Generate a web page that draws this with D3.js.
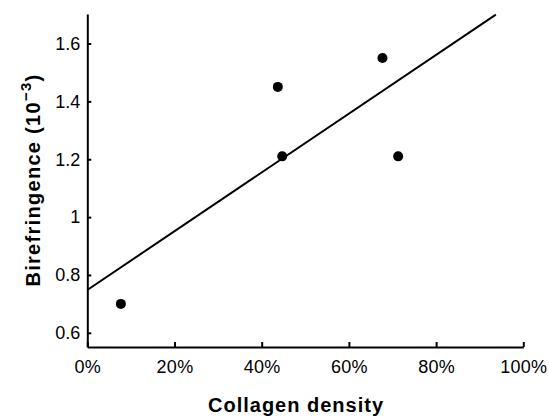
<!DOCTYPE html>
<html>
<head>
<meta charset="utf-8">
<script src="https://cdn.jsdelivr.net/npm/d3@7"></script>
<style>
  body { margin: 0; background: #fff; }
  svg text { font-family: "Liberation Sans", Arial, Helvetica, sans-serif; fill: #000; }
  .axis path, .axis line { stroke: #000; stroke-width: 2px; }
</style>
</head>
<body>
<div id="chart"></div>
<script>
// collagen density (fraction) vs birefringence (x10^-3)
var density = [0.077, 0.437, 0.447, 0.677, 0.713];
var birefringence = [0.70, 1.45, 1.21, 1.55, 1.21];

// fitted line end points
var fitX = [0, 0.937];
var fitY = [0.748, 1.70];

var xTicks = [0, 0.2, 0.4, 0.6, 0.8, 1.0];
var yTicks = [0.6, 0.8, 1.0, 1.2, 1.4, 1.6];

var width = 549,
    height = 418,
    margin = {top: 14, right: 25.7, bottom: 71, left: 87.3};

var svg = d3.select("#chart").append("svg")
    .attr("width", width)
    .attr("height", height);

var xScale = d3.scaleLinear().domain([0, 1]).range([margin.left, width - margin.right]);
var yScale = d3.scaleLinear().domain([0.551, 1.702]).range([height - margin.bottom, margin.top]);

var xAxis = d3.axisBottom(xScale)
    .tickValues(xTicks)
    .tickFormat(d3.format(".0%"))
    .tickSizeInner(-5).tickSizeOuter(0)
    .tickPadding(13);

var yAxis = d3.axisLeft(yScale)
    .tickValues(yTicks)
    .tickFormat(function (d) { return d === 1 ? "1" : d3.format(".1f")(d); })
    .tickSizeInner(-4).tickSizeOuter(0)
    .tickPadding(7);

var gx = svg.append("g")
    .attr("class", "axis x-axis")
    .attr("transform", "translate(0," + yScale.range()[0] + ")")
    .call(xAxis);

var gy = svg.append("g")
    .attr("class", "axis y-axis")
    .attr("transform", "translate(" + xScale.range()[0] + ",0)")
    .call(yAxis);

gx.attr("font-size", 18).attr("font-family", null);
gy.attr("font-size", 18).attr("font-family", null);
gx.selectAll("text").attr("letter-spacing", 0.3);

// regression line
var line = d3.line()
    .x(function (d) { return xScale(d[0]); })
    .y(function (d) { return yScale(d[1]); });

svg.append("path")
    .datum(d3.zip(fitX, fitY))
    .attr("d", line)
    .attr("fill", "none")
    .attr("stroke", "#000")
    .attr("stroke-width", 2);

// data points
svg.append("g").attr("class", "points")
    .selectAll("circle")
    .data(d3.zip(density, birefringence))
    .enter().append("circle")
    .attr("cx", function (d) { return xScale(d[0]); })
    .attr("cy", function (d) { return yScale(d[1]); })
    .attr("r", 5)
    .attr("fill", "#000");

// axis titles
svg.append("text")
    .attr("x", 296)
    .attr("y", 411.5)
    .attr("text-anchor", "middle")
    .attr("font-size", 20)
    .attr("font-weight", "bold")
    .attr("letter-spacing", 1)
    .text("Collagen density");

var yTitle = svg.append("text")
    .attr("transform", "translate(40,180) rotate(-90)")
    .attr("text-anchor", "middle")
    .attr("font-size", 20)
    .attr("font-weight", "bold")
    .attr("letter-spacing", 1.3);
yTitle.append("tspan").text("Birefringence (10");
yTitle.append("tspan").attr("font-size", 15).attr("dy", -9).text("\u22123");
yTitle.append("tspan").attr("dy", 9).text(")");
</script>
</body>
</html>
